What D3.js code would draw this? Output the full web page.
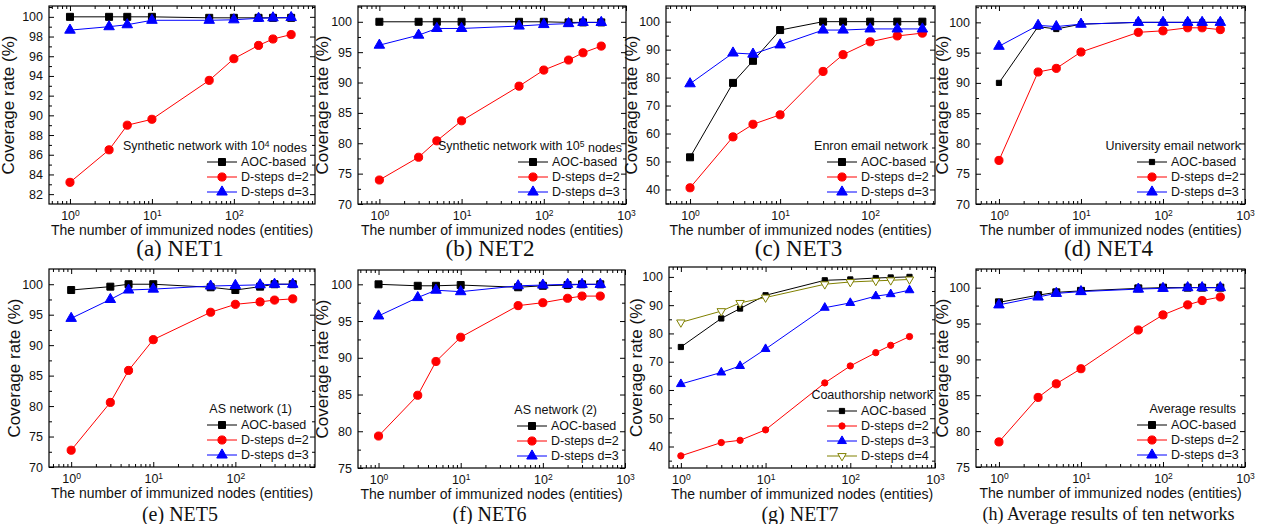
<!DOCTYPE html>
<html><head><meta charset="utf-8">
<script src="https://cdn.jsdelivr.net/npm/d3@7"></script>
<style>body{margin:0;background:#fff}svg{display:block}</style>
</head><body><svg id="c" width="1263" height="524"></svg>
<script>
// ---------- DATA ----------
const xStd  = [1, 3, 5, 10, 50, 100, 200, 300, 500];
const xNet3 = [1, 3, 5, 10, 30, 50, 100, 200, 380];
const seriesNames = ["AOC-based", "D-steps d=2", "D-steps d=3", "D-steps d=4"];

const net1Aoc = [100, 100, 100, 100, 99.9, 99.9, 99.9, 99.9, 99.9];
const net1D2  = [83.2, 86.5, 89.0, 89.6, 93.55, 95.75, 97.1, 97.75, 98.2];
const net1D3  = [98.65, 99.0, 99.2, 99.65, 99.65, 99.7, 99.85, 99.9, 99.93];

const net2Aoc = [100, 100, 100, 100, 100, 100, 99.9, 99.9, 99.9];
const net2D2  = [73.95, 77.7, 80.4, 83.7, 89.4, 92.05, 93.7, 94.9, 96.0];
const net2D3  = [96.15, 97.8, 98.9, 98.9, 99.3, 99.55, 99.7, 99.9, 99.9];

const net3Aoc = [51.5, 78.1, 86.0, 97.0, 100, 100, 100, 100, 100];
const net3D2  = [40.6, 58.8, 63.3, 66.7, 82.2, 88.2, 92.8, 94.9, 95.9];
const net3D3  = [77.8, 88.8, 88.4, 91.7, 97.0, 97.0, 97.4, 97.4, 97.4];

const net4Aoc = [90.0, 99.3, 98.9, 99.7, 100, 100, 100, 100, 100];
const net4D2  = [77.2, 91.8, 92.4, 95.1, 98.35, 98.6, 99.1, 99.1, 98.8];
const net4D3  = [96.05, 99.5, 99.3, 99.7, 100, 100, 100, 100, 100];

const net5Aoc = [99.05, 99.6, 100, 100, 99.5, 99.05, 99.6, 100, 100];
const net5D2  = [72.75, 80.6, 85.85, 90.9, 95.4, 96.7, 97.1, 97.4, 97.6];
const net5D3  = [94.4, 97.5, 99.05, 99.2, 99.7, 99.8, 99.9, 100, 100];

const net6Aoc = [100, 99.8, 99.8, 99.9, 99.6, 99.8, 99.9, 100, 100];
const net6D2  = [79.35, 84.9, 89.5, 92.8, 97.1, 97.5, 98.1, 98.4, 98.4];
const net6D3  = [95.7, 98.2, 99.2, 99.0, 99.8, 99.9, 100, 100, 100];

const net7Aoc = [75.2, 85.3, 88.8, 93.5, 98.8, 99.1, 99.6, 99.8, 100];
const net7D2  = [36.7, 41.4, 42.2, 45.9, 62.5, 68.5, 73.2, 75.8, 78.9];
const net7D3  = [62.1, 66.2, 68.5, 74.5, 89.1, 90.8, 93.2, 93.9, 95.3];
const net7D4  = [83.9, 87.9, 90.8, 92.7, 97.4, 98.2, 98.6, 98.8, 99.1];

const avgAoc = [97.95, 98.95, 99.35, 99.55, 99.9, 100, 100, 100, 100];
const avgD2  = [78.5, 84.7, 86.6, 88.7, 94.1, 96.2, 97.6, 98.2, 98.7];
const avgD3  = [97.6, 98.7, 99.2, 99.45, 99.8, 99.9, 100, 100, 100];

const yTicks2_82  = [82, 84, 86, 88, 90, 92, 94, 96, 98, 100];
const yTicks5_70  = [70, 75, 80, 85, 90, 95, 100];
const yTicks5_75  = [75, 80, 85, 90, 95, 100];
const yTicks10_40 = [40, 50, 60, 70, 80, 90, 100];
const xTickExps   = [0, 1, 2, 3];

const legendTitles = [
  ["Synthetic network with 10", "4", " nodes"],
  ["Synthetic network with 10", "5", " nodes"],
  ["Enron email network"],
  ["University email network"],
  ["AS network (1)"],
  ["AS network (2)"],
  ["Coauthorship network"],
  ["Average results"]
];
const captions = ["(a) NET1", "(b) NET2", "(c) NET3", "(d) NET4", "(e) NET5", "(f) NET6", "(g) NET7", "(h) Average results of ten networks"];
const yTitle = "Coverage rate (%)";
const xTitle = "The number of immunized nodes (entities)";

// ---------- LAYOUT / STYLE ----------
const panels = [
  {x: xStd,  s: [net1Aoc, net1D2, net1D3], rect: [49, 6, 315, 204],   yd: [81, 101.1],   yt: yTicks2_82,  xp: [-0.256, 2.99], yOff: 35, tGap: 8,  ms: [1,1,1,1], cap: 23, capY: 256},
  {x: xStd,  s: [net2Aoc, net2D2, net2D3], rect: [358, 6, 626, 204],  yd: [70, 102.6],   yt: yTicks5_70,  xp: [-0.26, 3.0],   yOff: 30, tGap: 4,  ms: [1,1,1,1], cap: 23, capY: 256},
  {x: xNet3, s: [net3Aoc, net3D2, net3D3], rect: [666, 6, 935, 204],  yd: [34.8, 105.6], yt: yTicks10_40, xp: [-0.267, 2.72], yOff: 29, tGap: 7,  ms: [1,1,1,1], cap: 23, capY: 256},
  {x: xStd,  s: [net4Aoc, net4D2, net4D3], rect: [976, 6, 1245, 204], yd: [70, 102.7],   yt: yTicks5_70,  xp: [-0.28, 3.0],   yOff: 28, tGap: 4,  ms: [0.55,1,1,1], cap: 23, capY: 256},
  {x: xStd,  s: [net5Aoc, net5D2, net5D3], rect: [49, 269, 315, 467], yd: [70, 102.5],   yt: yTicks5_70,  xp: [-0.27, 2.97],  yOff: 29, tGap: 23, ms: [1,1,1,1], cap: 20, capY: 520.5},
  {x: xStd,  s: [net6Aoc, net6D2, net6D3], rect: [358, 270, 625, 468],yd: [75, 101.95],  yt: yTicks5_75,  xp: [-0.25, 3.0],   yOff: 30, tGap: 28, ms: [1,1,1,1], cap: 20, capY: 520.5},
  {x: xStd,  s: [net7Aoc, net7D2, net7D3, net7D4], rect: [669, 267, 935, 468], yd: [32.4, 103.5], yt: yTicks10_40, xp: [-0.14, 3.0], yOff: 27, tGap: 2, ms: [0.55,0.6,0.7,0.7], cap: 20, capY: 520.5},
  {x: xStd,  s: [avgAoc, avgD2, avgD3],    rect: [976, 269, 1245, 467], yd: [75, 102.6],  yt: yTicks5_75,  xp: [-0.28, 3.0],   yOff: 28, tGap: 9,  ms: [1,1,1,1], cap: 18, capY: 520}
];
const styles = [
  {color: "#000000", sym: d3.symbolSquare,   size: 49, fill: "#000000", rot: 0},
  {color: "#ff0000", sym: d3.symbolCircle,   size: 52, fill: "#ff0000", rot: 0},
  {color: "#0000ff", sym: d3.symbolTriangle, size: 48, fill: "#0000ff", rot: 0},
  {color: "#808000", sym: d3.symbolTriangle, size: 44, fill: "#ffffff", rot: 180}
];
const SANS = "'Liberation Sans', Arial, sans-serif";
const SERIF = "'Liberation Serif', 'Times New Roman', serif";

const svg = d3.select("#c");

panels.forEach((p, pi) => {
  const [L, T, R, B] = p.rect;
  const g = svg.append("g");
  const x = d3.scaleLog().domain([Math.pow(10, p.xp[0]), Math.pow(10, p.xp[1])]).range([L, R]);
  const y = d3.scaleLinear().domain(p.yd).range([B, T]);

  // minor ticks
  const yMinor = [];
  for (let i = 0; i < p.yt.length - 1; i++) yMinor.push((p.yt[i] + p.yt[i + 1]) / 2);
  const step = p.yt[1] - p.yt[0];
  if (p.yt[0] - step / 2 > p.yd[0]) yMinor.push(p.yt[0] - step / 2);
  if (p.yt[p.yt.length - 1] + step / 2 < p.yd[1]) yMinor.push(p.yt[p.yt.length - 1] + step / 2);
  const [x0, x1] = x.domain();
  const xMajor = xTickExps.map(e => Math.pow(10, e)).filter(v => v >= x0 && v <= x1 * 1.001);
  const xMinor = [];
  for (let e = -1; e <= 3; e++) for (let k = 2; k <= 9; k++) { const v = k * Math.pow(10, e); if (v > x0 && v < x1) xMinor.push(v); }

  const font = (sel, size) => sel.selectAll("text").attr("font-family", SANS).attr("font-size", size).attr("fill", "#111");
  const clean = sel => { sel.select(".domain").remove(); sel.selectAll("line").attr("stroke", "#000"); };

  // left axis
  const ya = g.append("g").attr("transform", `translate(${L},0)`)
    .call(d3.axisLeft(y).tickValues(p.yt).tickSize(-5).tickPadding(6).tickFormat(d3.format("d")));
  clean(ya); font(ya, "12.5px");
  const yam = g.append("g").attr("transform", `translate(${L},0)`)
    .call(d3.axisLeft(y).tickValues(yMinor).tickSize(-3).tickFormat(""));
  clean(yam);
  // right mirror
  const yr = g.append("g").attr("transform", `translate(${R},0)`)
    .call(d3.axisRight(y).tickValues(p.yt).tickSize(-5).tickFormat(""));
  clean(yr);
  const yrm = g.append("g").attr("transform", `translate(${R},0)`)
    .call(d3.axisRight(y).tickValues(yMinor).tickSize(-3).tickFormat(""));
  clean(yrm);
  // bottom axis
  const xa = g.append("g").attr("transform", `translate(0,${B})`)
    .call(d3.axisBottom(x).tickValues(xMajor).tickSize(-5).tickPadding(7).tickFormat(() => ""));
  clean(xa);
  xa.selectAll(".tick text").each(function(d) {
    const t = d3.select(this);
    t.text("10").attr("font-family", SANS).attr("font-size", "12.5px").attr("fill", "#111");
    t.append("tspan").attr("dy", "-0.45em").attr("font-size", "8.5px").text(Math.round(Math.log10(d)));
  });
  const xam = g.append("g").attr("transform", `translate(0,${B})`)
    .call(d3.axisBottom(x).tickValues(xMinor).tickSize(-3).tickFormat(""));
  clean(xam);
  // top mirror
  const xt = g.append("g").attr("transform", `translate(0,${T})`)
    .call(d3.axisTop(x).tickValues(xMajor).tickSize(-5).tickFormat(""));
  clean(xt);
  const xtm = g.append("g").attr("transform", `translate(0,${T})`)
    .call(d3.axisTop(x).tickValues(xMinor).tickSize(-3).tickFormat(""));
  clean(xtm);

  // frame
  g.append("rect").attr("x", L).attr("y", T).attr("width", R - L).attr("height", B - T)
    .attr("fill", "none").attr("stroke", "#000").attr("stroke-width", 1.2);

  // axis titles
  g.append("text").attr("transform", `translate(${L - p.yOff},${(T + B) / 2}) rotate(-90)`)
    .attr("text-anchor", "middle").attr("font-family", SANS).attr("font-size", "17px").attr("fill", "#111").text(yTitle);
  g.append("text").attr("x", (L + R) / 2).attr("y", B + 31).attr("text-anchor", "middle")
    .attr("font-family", SANS).attr("font-size", "14px").attr("fill", "#111").text(xTitle);
  // caption
  g.append("text").attr("x", (L + R) / 2 - 2).attr("y", p.capY).attr("text-anchor", "middle")
    .attr("font-family", SERIF).attr("font-size", p.cap + "px").attr("fill", "#111").text(captions[pi]);

  // series
  const line = d3.line().x(d => x(d[0])).y(d => y(d[1]));
  p.s.forEach((vals, si) => {
    const st = styles[si];
    const pts = p.x.map((xv, i) => [xv, vals[i]]);
    g.append("path").datum(pts).attr("d", line).attr("fill", "none").attr("stroke", st.color).attr("stroke-width", 1);
    g.selectAll(null).data(pts).enter().append("path")
      .attr("d", d3.symbol().type(st.sym).size(st.size * p.ms[si]))
      .attr("transform", d => `translate(${x(d[0])},${y(d[1])}) rotate(${st.rot})`)
      .attr("fill", st.fill).attr("stroke", st.color).attr("stroke-width", 1);
  });

  // legend
  const n = p.s.length;
  const lastY = B - 12;
  const firstY = lastY - (n - 1) * 15;
  const tt = g.append("text").attr("x", R - p.tGap).attr("y", firstY - 16).attr("dy", "0.35em")
    .attr("text-anchor", "end").attr("font-family", SANS).attr("font-size", "12.5px").attr("fill", "#111");
  const lt = legendTitles[pi];
  tt.append("tspan").text(lt[0]);
  if (lt.length > 1) {
    tt.append("tspan").attr("dy", "-0.45em").attr("font-size", "8.5px").text(lt[1]);
    tt.append("tspan").attr("dy", "0.45em").text(lt[2]);
  }
  for (let si = 0; si < n; si++) {
    const st = styles[si];
    const ly = firstY + si * 15;
    g.append("line").attr("x1", R - 108).attr("x2", R - 78).attr("y1", ly).attr("y2", ly)
      .attr("stroke", st.color).attr("stroke-width", 1);
    g.append("path").attr("d", d3.symbol().type(st.sym).size(st.size * p.ms[si]))
      .attr("transform", `translate(${R - 93},${ly}) rotate(${st.rot})`)
      .attr("fill", st.fill).attr("stroke", st.color).attr("stroke-width", 1);
    g.append("text").attr("x", R - 74).attr("y", ly).attr("dy", "0.35em")
      .attr("font-family", SANS).attr("font-size", "12.5px").attr("fill", "#111").text(seriesNames[si]);
  }
});
</script>
</body></html>
